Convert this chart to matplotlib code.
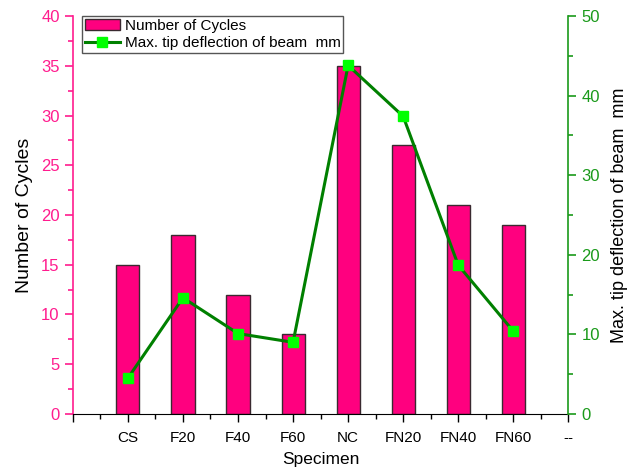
import matplotlib
matplotlib.use("Agg")
import matplotlib.pyplot as plt
from matplotlib.ticker import MultipleLocator

plt.rcParams['font.family'] = ['Liberation Sans', 'DejaVu Sans']

categories = ["CS", "F20", "F40", "F60", "NC", "FN20", "FN40", "FN60"]
cycles = [15, 18, 12, 8, 35, 27, 21, 19]
deflection = [4.5, 14.6, 10.1, 9.0, 43.8, 37.4, 18.7, 10.4]
tick_labels = [""] + categories + ["--"]

pink = "#FF007F"
pink_axis = "#FF1C8E"
green_axis = "#1A9A1A"
line_green = "#008000"

fig = plt.figure(figsize=(6.28, 4.72), dpi=100)
ax = fig.add_axes([0.116, 0.123, 0.789, 0.843])
ax2 = ax.twinx()

x = list(range(1, len(categories) + 1))
b = ax.bar(x, cycles, width=0.42, color=pink, edgecolor="#3a2a30", linewidth=1.0,
           label="Number of Cycles", zorder=2)
l, = ax2.plot(x, deflection, color=line_green, linewidth=2.2, marker="s", markersize=7,
              markerfacecolor="#00FF00", markeredgecolor="#00FF00",
              label="Max. tip deflection of beam  mm", zorder=3)

ax.set_xlim(0, 9)
ax.set_xticks(range(0, 10))
ax.set_xticklabels(tick_labels)
ax.xaxis.set_minor_locator(MultipleLocator(0.5))
ax.set_ylim(0, 40)
ax.yaxis.set_major_locator(MultipleLocator(5))
ax.yaxis.set_minor_locator(MultipleLocator(2.5))
ax2.set_ylim(0, 50)
ax2.yaxis.set_major_locator(MultipleLocator(10))
ax2.yaxis.set_minor_locator(MultipleLocator(5))

for a in (ax, ax2):
    a.spines['top'].set_visible(False)
ax.spines['right'].set_visible(False)
ax.spines['left'].set_color(pink_axis)
ax.spines['left'].set_linewidth(1.2)
ax2.spines['left'].set_visible(False)
ax2.spines['bottom'].set_visible(False)
ax2.spines['right'].set_color(green_axis)
ax2.spines['right'].set_linewidth(1.2)

ax.tick_params(axis='y', which='both', colors=pink_axis, labelsize=12, direction='out', width=1.2)
ax.tick_params(axis='y', which='major', length=6)
ax.tick_params(axis='y', which='minor', length=3.5)
ax.tick_params(axis='x', which='both', direction='out', labelsize=11, width=1.0)
ax.tick_params(axis='x', which='major', length=6, pad=6)
ax.tick_params(axis='x', which='minor', length=3.5)
ax2.tick_params(axis='y', which='both', colors=green_axis, labelsize=12, direction='out', width=1.2)
ax2.tick_params(axis='y', which='major', length=6)
ax2.tick_params(axis='y', which='minor', length=3.5)

ax.set_xlabel("Specimen", fontsize=12.5, labelpad=5)
ax.set_ylabel("Number of Cycles", fontsize=14, labelpad=6)
ax2.set_ylabel("Max. tip deflection of beam  mm", fontsize=13, labelpad=8)

ax.set_zorder(0)
ax2.set_zorder(1)
ax2.patch.set_visible(False)

leg = ax2.legend([b, l], ["Number of Cycles", "Max. tip deflection of beam  mm"],
                 loc="upper left", bbox_to_anchor=(0.018, 1.0), fontsize=11,
                 frameon=True, fancybox=False, edgecolor="#555555", framealpha=1,
                 borderpad=0.2, labelspacing=0.2, handlelength=2.3, handletextpad=0.3,
                 borderaxespad=0)
leg.get_frame().set_linewidth(1.0)

fig.savefig("out.png", dpi=100)
